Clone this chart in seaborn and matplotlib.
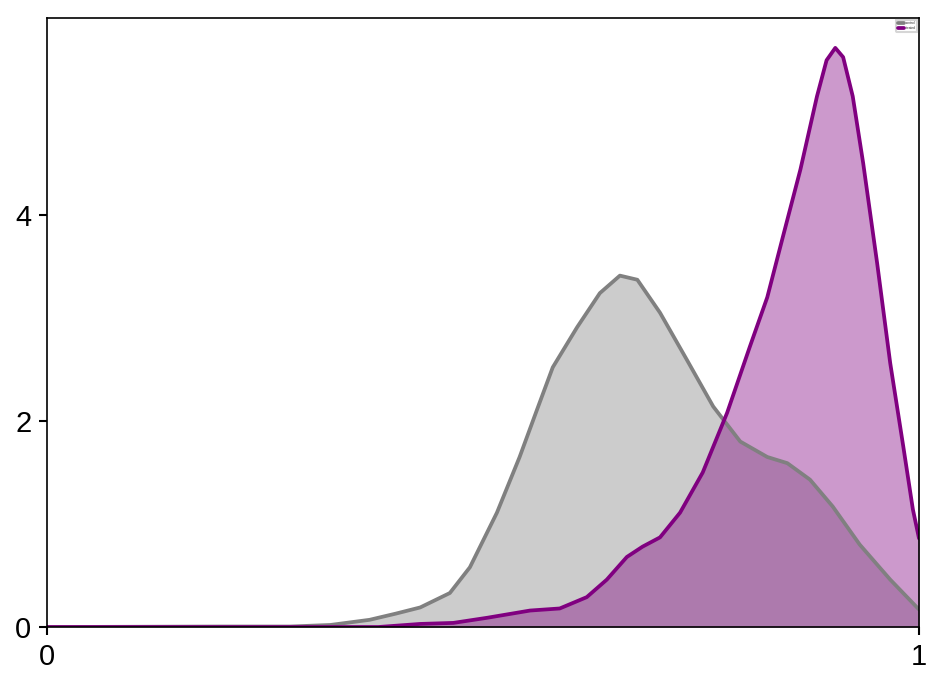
import numpy as np
import pandas as pd
import matplotlib
matplotlib.use("Agg")
import matplotlib.pyplot as plt
import seaborn as sns

# density curves
gray_x = [0.0, 0.2, 0.279, 0.325, 0.37, 0.40, 0.428, 0.462, 0.485, 0.516, 0.542, 0.562,
          0.580, 0.608, 0.634, 0.657, 0.677, 0.703, 0.734, 0.764, 0.795, 0.826, 0.849,
          0.875, 0.901, 0.932, 0.967, 1.0]
gray_y = [0.0, 0.005, 0.005, 0.02, 0.07, 0.13, 0.19, 0.33, 0.58, 1.11, 1.65, 2.11,
          2.52, 2.91, 3.24, 3.41, 3.37, 3.05, 2.59, 2.14, 1.80, 1.65, 1.59, 1.43, 1.17,
          0.80, 0.46, 0.17]

purple_x = [0.0, 0.38, 0.428, 0.466, 0.505, 0.554, 0.588, 0.619, 0.642, 0.665, 0.683,
            0.703, 0.726, 0.752, 0.780, 0.806, 0.826, 0.844, 0.864, 0.883, 0.894, 0.904,
            0.913, 0.924, 0.936, 0.952, 0.967, 0.982, 0.993, 1.0]
purple_y = [0.0, 0.0, 0.03, 0.04, 0.09, 0.16, 0.18, 0.29, 0.46, 0.68, 0.78, 0.87, 1.11,
            1.50, 2.08, 2.72, 3.20, 3.79, 4.44, 5.15, 5.50, 5.62, 5.53, 5.15, 4.50, 3.53,
            2.56, 1.75, 1.14, 0.86]

labels = ["control", "treated"]
colors = ["gray", "purple"]

sns.set_style("ticks")
plt.rcParams['font.family'] = ['Liberation Sans', 'DejaVu Sans']

fig, ax = plt.subplots(figsize=(6.3, 4.58), dpi=150)
fig.subplots_adjust(left=0.0497, right=0.9725, top=0.9738, bottom=0.0873)

for xs, ys, c, lab in [(gray_x, gray_y, colors[0], labels[0]),
                       (purple_x, purple_y, colors[1], labels[1])]:
    df = pd.DataFrame({"x": xs, "y": ys})
    sns.lineplot(data=df, x="x", y="y", color=c, lw=1.8, ax=ax, label=lab, sort=False)
    ax.fill_between(xs, 0, ys, color=c, alpha=0.4, lw=0)

ax.set_xlim(0, 1)
ax.set_ylim(0, 5.91)
ax.set_xticks([0, 1])
ax.set_xticklabels(["0", "1"])
ax.set_yticks([0, 2, 4])
ax.set_xlabel("")
ax.set_ylabel("")
ax.tick_params(labelsize=14, length=4, width=1, colors="black")
for s in ax.spines.values():
    s.set_color("black")
    s.set_linewidth(0.8)
ax.legend(loc="upper right", fontsize=1.5, handlelength=2, borderpad=0.4, frameon=True)

fig.savefig("out.png", dpi=150)
